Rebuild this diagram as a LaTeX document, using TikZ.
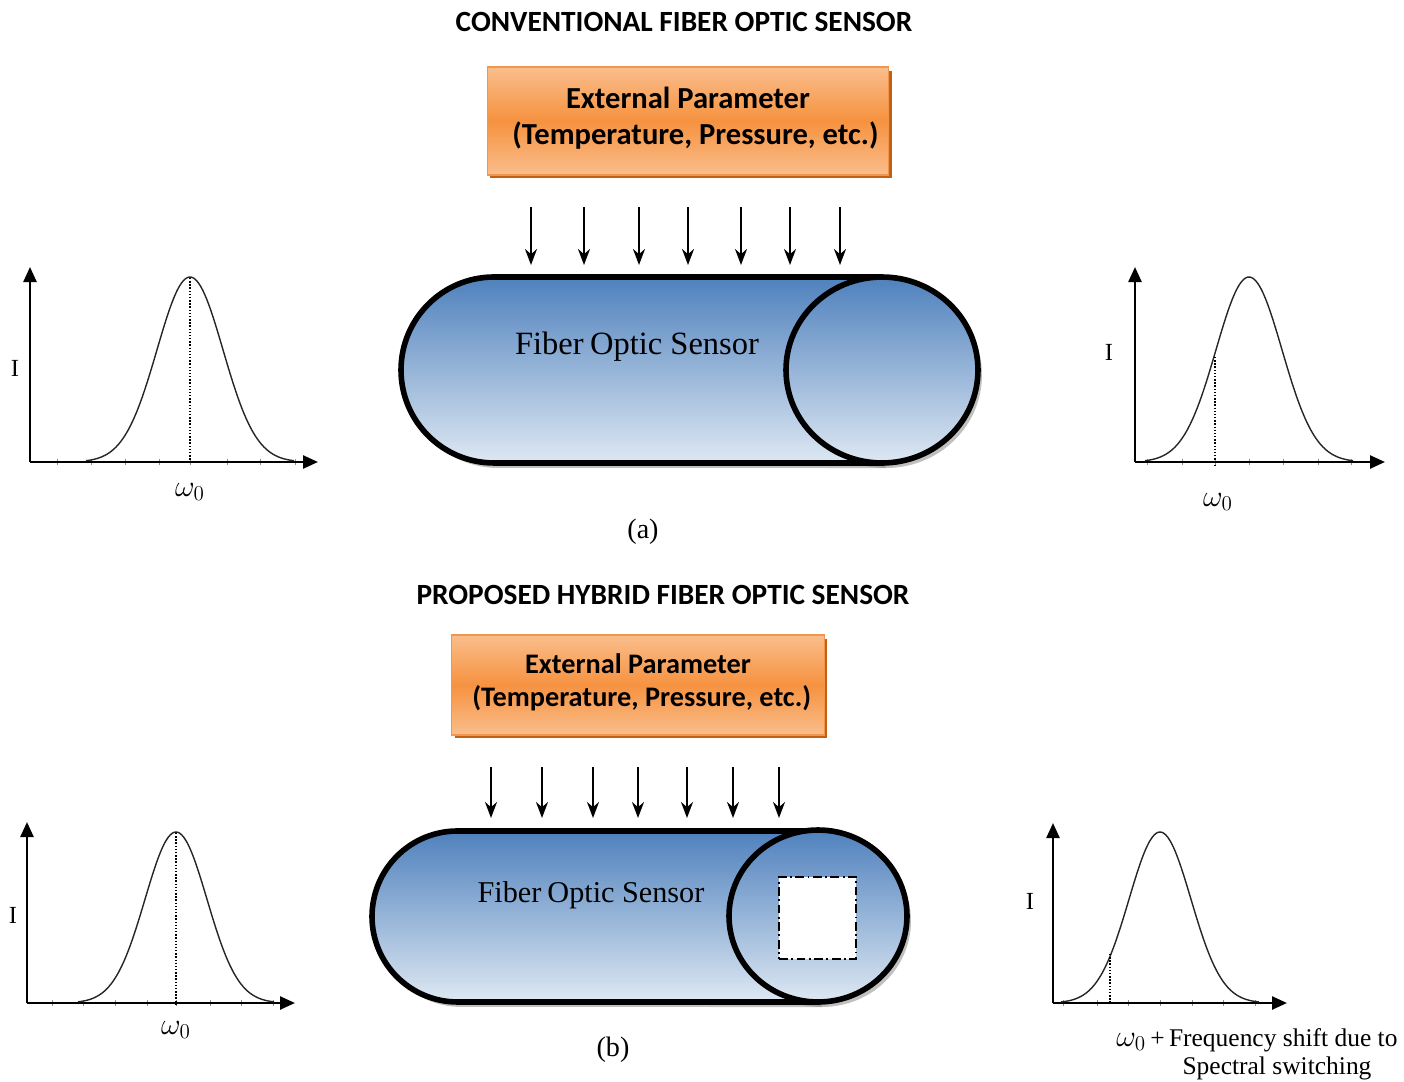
\documentclass[tikz,border=0pt]{standalone}
\usepackage{fontspec}
\setmainfont{Liberation Serif}
\newfontfamily\calib{Carlito}
\usetikzlibrary{arrows.meta,shadows}
\definecolor{blueTop}{RGB}{79,129,189}
\definecolor{blueBot}{RGB}{222,232,243}
\definecolor{orMid}{RGB}{246,146,64}
\definecolor{orEdge}{RGB}{250,190,140}
\definecolor{orLine}{RGB}{240,150,80}
\definecolor{orShadow}{RGB}{196,96,16}
\tikzset{
  x=0.02cm, y=-0.02cm,
  title/.style={font=\calib\bfseries\fontsize{16.7}{19}\selectfont, inner sep=0pt},
  parbox/.style={draw=orLine, line width=0.6pt, top color=orEdge, bottom color=orEdge, middle color=orMid,
    inner sep=0pt,
    drop shadow={shadow xshift=0.06cm, shadow yshift=-0.07cm, fill=orShadow, opacity=1}},
  partext/.style={align=center, inner sep=0pt, font=\calib\bfseries\fontsize{17.4}{20.4}\selectfont},
  downarr/.style={line width=1.2pt, -{Stealth[length=0.32cm, width=0.24cm]}},
  axis/.style={line width=1.4pt, -{Triangle[length=0.3cm, width=0.26cm]}},
  curve/.style={line width=0.8pt, black!85},
  tick/.style={line width=0.5pt, black!45},
  dline/.style={line width=0.8pt, densely dotted},
  cylline/.style={line width=3.2pt, black},
  cylshade/.style={top color=blueTop, bottom color=blueBot},
  cylshadow/.style={fill=black!45, opacity=0.55},
  lbl/.style={font=\fontsize{14}{16}\selectfont, inner sep=0pt},
}
\begin{document}
\begin{tikzpicture}
\path[use as bounding box] (0,0) rectangle (1404,1082);

% ================= (a) =================
\node[title] (titleA) at (684,22) {CONVENTIONAL FIBER OPTIC SENSOR};
\node[parbox, minimum width=8.04cm, minimum height=2.16cm] (boxA) at (688,121) {};
\node[partext] (boxAtext) at (688,118) {External Parameter\\ \hspace*{0.3cm}(Temperature, Pressure, etc.)};

\foreach \i/\xx in {1/531,2/584,3/639,4/688,5/741,6/790,7/840}{
  \coordinate (aS\i) at (\xx,207);
  \coordinate (aE\i) at (\xx,265);
  \draw[downarr] (aS\i) -- (aE\i);
}

% cylinder a
\fill[cylshadow] (886,282) -- (498,282) arc[start angle=90, end angle=270, radius=1.86cm] -- (886,468) -- cycle;
\fill[cylshadow] (886,375) ellipse [x radius=1.92cm, y radius=1.86cm];
\path[cylshade] (882,277) -- (494,277) arc[start angle=90, end angle=270, radius=1.86cm] -- (882,463) -- cycle;
\draw[cylline] (882,277) -- (494,277) arc[start angle=90, end angle=270, radius=1.86cm] -- (882,463);
\draw[cylline, cylshade] (882,370) ellipse [x radius=1.92cm, y radius=1.86cm];
\node[font=\fontsize{18.5}{20}\selectfont, inner sep=0pt] (sensA) at (637,347) {Fiber\hspace{-0.05em} Optic Sensor};

% left plot a
\coordinate (laO) at (30,462);
\coordinate (laX) at (318,462);
\coordinate (laY) at (30,267);
\foreach \t in {57,91,125,159,190,227,260,295}{\draw[tick] (\t,459) -- (\t,465);}
\draw[axis] (laO) -- (laX);
\draw[axis] (laO) -- (laY);
\draw[curve] plot[domain=86:294, samples=90, smooth] (\x, {462-185*exp(0-((\x-190)*(\x-190))/2178)});
\draw[dline] (190,278) -- (190,463);
\node[lbl] (IlA) at (15,368) {I};
\node[lbl, font=\fontsize{17}{18}\selectfont] (wlA) at (190,492) {$\omega_0$};

% right plot a
\coordinate (raO) at (1135,462);
\coordinate (raX) at (1385,462);
\coordinate (raY) at (1135,267);
\foreach \t in {1147,1182,1215,1249,1283,1318,1351}{\draw[tick] (\t,459) -- (\t,465);}
\draw[axis] (raO) -- (raX);
\draw[axis] (raO) -- (raY);
\draw[curve] plot[domain=1145:1353, samples=90, smooth] (\x, {462-185*exp(0-((\x-1249)*(\x-1249))/2178)});
\draw[dline] (1215,357) -- (1215,466);
\node[lbl] (IrA) at (1109,352) {I};
\node[lbl, font=\fontsize{17}{18}\selectfont] (wrA) at (1218,502) {$\omega_0$};

\node[font=\fontsize{16}{18}\selectfont, inner sep=0pt] (capA) at (643,532) {(a)};

% ================= (b) =================
\node[title] (titleB) at (663,595) {PROPOSED HYBRID FIBER OPTIC SENSOR};
\node[parbox, minimum width=7.46cm, minimum height=2.0cm] (boxB) at (638,685) {};
\node[partext, font=\calib\bfseries\fontsize{16.1}{18.7}\selectfont] (boxBtext) at (638,682)
  {External Parameter\\ \hspace*{0.15cm}(Temperature, Pressure, etc.)};

\foreach \i/\xx in {1/491,2/542,3/593,4/638,5/687,6/733,7/779}{
  \coordinate (bS\i) at (\xx,767);
  \coordinate (bE\i) at (\xx,818);
  \draw[downarr] (bS\i) -- (bE\i);
}

% cylinder b
\fill[cylshadow] (822,836) -- (461.5,836) arc[start angle=90, end angle=270, radius=1.71cm] -- (822,1007) -- cycle;
\fill[cylshadow] (822,921) ellipse [x radius=1.78cm, y radius=1.72cm];
\path[cylshade] (818,831) -- (457.5,831) arc[start angle=90, end angle=270, radius=1.71cm] -- (818,1002) -- cycle;
\draw[cylline] (818,831) -- (457.5,831) arc[start angle=90, end angle=270, radius=1.71cm] -- (818,1002);
\draw[cylline, cylshade] (818,916) ellipse [x radius=1.78cm, y radius=1.72cm];
\node[font=\fontsize{17.2}{19}\selectfont, inner sep=0pt] (sensB) at (591,895) {Fiber\hspace{-0.05em} Optic Sensor};
\node[draw, fill=white, line width=1pt, dash pattern=on 5pt off 2pt on 1pt off 2pt,
      minimum width=1.54cm, minimum height=1.64cm, inner sep=0pt] (hyb) at (817.5,918) {};

% left plot b
\coordinate (lbO) at (27,1003);
\coordinate (lbX) at (295,1003);
\coordinate (lbY) at (27,822);
\foreach \t in {52,83,115,147,176,210,241,273}{\draw[tick] (\t,1000) -- (\t,1006);}
\draw[axis] (lbO) -- (lbX);
\draw[axis] (lbO) -- (lbY);
\draw[curve] plot[domain=78:274, samples=90, smooth] (\x, {1003-171*exp(0-((\x-176)*(\x-176))/1922)});
\draw[dline] (176,833) -- (176,1004);
\node[lbl] (IlB) at (13,915) {I};
\node[lbl, font=\fontsize{17}{18}\selectfont] (wlB) at (176,1030) {$\omega_0$};

% right plot b
\coordinate (rbO) at (1053,1003);
\coordinate (rbX) at (1287,1003);
\coordinate (rbY) at (1053,823);
\foreach \t in {1063,1097,1128,1160,1192,1223,1255}{\draw[tick] (\t,1000) -- (\t,1006);}
\draw[axis] (rbO) -- (rbX);
\draw[axis] (rbO) -- (rbY);
\draw[curve] plot[domain=1061:1259, samples=90, smooth] (\x, {1003-171*exp(0-((\x-1160)*(\x-1160))/1922)});
\draw[dline] (1110,954) -- (1110,1004);
\node[lbl] (IrB) at (1030,901) {I};
\node[lbl, font=\fontsize{14.5}{16}\selectfont] (shift1) at (1257,1040) {{\fontsize{16.5}{16}\selectfont$\omega_0$}\,+\,Frequency shift due to};
\node[lbl, font=\fontsize{14.5}{16}\selectfont] (shift2) at (1277,1068) {Spectral switching};

\node[font=\fontsize{16}{18}\selectfont, inner sep=0pt] (capB) at (613,1050) {(b)};
\end{tikzpicture}
\end{document}
